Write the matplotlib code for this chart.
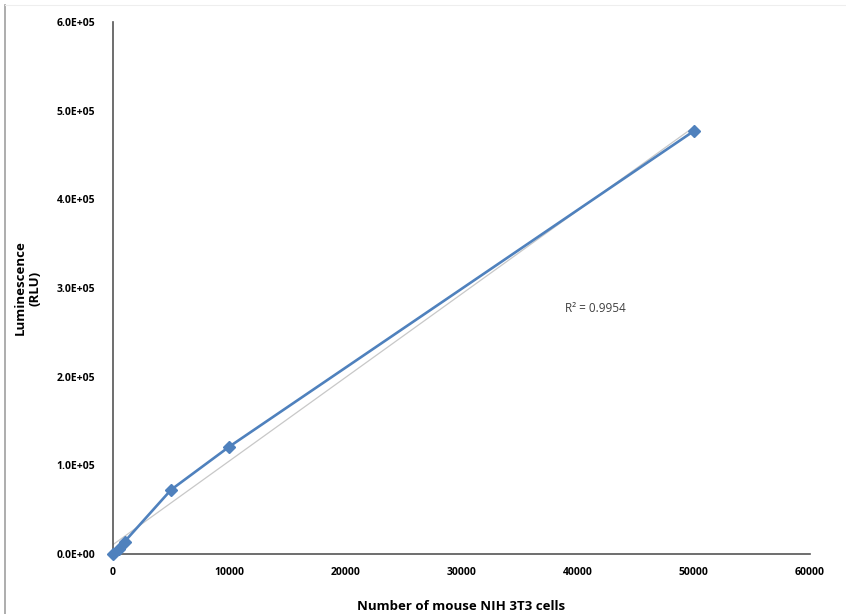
import matplotlib
matplotlib.use("Agg")
import matplotlib.pyplot as plt
import numpy as np
from matplotlib.lines import Line2D

# values
cells = [0, 500, 1000, 5000, 10000, 50000]
rlu = [0, 5500, 14000, 72500, 121000, 477000]
xticks = [0, 10000, 20000, 30000, 40000, 50000, 60000]
yticks = [0, 1e5, 2e5, 3e5, 4e5, 5e5, 6e5]
ytick_labels = ["0.0E+00", "1.0E+05", "2.0E+05", "3.0E+05", "4.0E+05", "5.0E+05", "6.0E+05"]
r2_text = "R² = 0.9954"

plt.rcParams["font.family"] = ["Open Sans", "DejaVu Sans"]

fig = plt.figure(figsize=(8.46, 6.14), dpi=100)
ax = fig.add_axes([0.1336, 0.0977, 0.8238, 0.8665])

# linear trendline (Excel style)
slope, icpt = np.polyfit(cells, rlu, 1)
tx = np.array([0, max(cells)])
ax.plot(tx, slope * tx + icpt, color="#c8c8c8", lw=0.9, zorder=2)

ax.plot(cells, rlu, color="#4F81BD", lw=1.9, marker="D", markersize=6,
        markeredgecolor="#4F81BD", zorder=3, clip_on=False)

ax.set_xlim(0, 60000)
ax.set_ylim(0, 6e5)
ax.set_xticks(xticks)
ax.set_xticklabels([str(v) for v in xticks], fontsize=7.5, fontweight="bold")
ax.set_yticks(yticks)
ax.set_yticklabels(ytick_labels, fontsize=7.5, fontweight="bold")
ax.tick_params(axis="x", length=0, pad=9)
ax.tick_params(axis="y", length=0, pad=13)

for s in ["top", "right"]:
    ax.spines[s].set_visible(False)
for s in ["left", "bottom"]:
    ax.spines[s].set_color("#555555")
    ax.spines[s].set_linewidth(1.2)

ax.set_xlabel("Number of mouse NIH 3T3 cells", fontsize=9.5, fontweight="bold")
ax.xaxis.set_label_coords(0.5, -0.086)
ax.set_ylabel("Luminescence\n(RLU)", fontsize=9.5, fontweight="bold", va="center")
ax.yaxis.set_label_coords(-0.122, 0.5)

ax.text(38900, 2.77e5, r2_text, fontsize=8.5, color="#404040", va="center")

# outer frame edge from the cropped screenshot
fig.add_artist(Line2D([4.5 / 846, 4.5 / 846], [0, 1 - 5 / 614], color="#a0a0a0", lw=1.2))
fig.add_artist(Line2D([4.5 / 846, 1], [1 - 5 / 614, 1 - 5 / 614], color="#eeeeee", lw=0.8))

fig.savefig("out.png", dpi=100)
